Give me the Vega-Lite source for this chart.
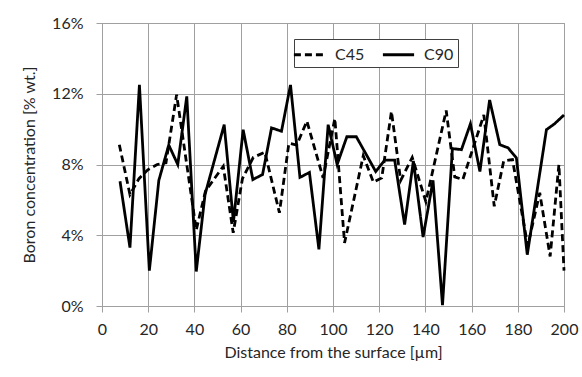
{
  "$schema": "https://vega.github.io/schema/vega-lite/v6.json",
  "width": 462,
  "height": 283,
  "autosize": {"type": "none"},
  "padding": {"left": 102, "top": 23, "right": 18, "bottom": 71},
  "background": "white",
  "config": {
    "font": "Lato",
    "view": {"stroke": "#a0a0a0"},
    "axis": {
      "gridColor": "#a0a0a0",
      "gridOpacity": 1,
      "gridWidth": 1,
      "domainColor": "#a0a0a0",
      "tickColor": "#a0a0a0",
      "tickSize": 6,
      "labelFont": "Lato",
      "labelFontSize": 16,
      "labelColor": "#262626",
      "titleFont": "Lato",
      "titleFontSize": 16,
      "titleFontWeight": "normal",
      "titleColor": "#262626"
    }
  },
  "data": {
    "values": [
      {"series": "C90", "x": 7.8, "y": 7.05},
      {"series": "C90", "x": 12.1, "y": 3.3},
      {"series": "C90", "x": 16.2, "y": 12.5},
      {"series": "C90", "x": 20.5, "y": 2.0},
      {"series": "C90", "x": 24.6, "y": 7.1},
      {"series": "C90", "x": 28.9, "y": 9.1},
      {"series": "C90", "x": 32.8, "y": 8.0},
      {"series": "C90", "x": 36.7, "y": 11.85},
      {"series": "C90", "x": 40.8, "y": 1.95},
      {"series": "C90", "x": 44.6, "y": 6.3},
      {"series": "C90", "x": 48.8, "y": 8.3},
      {"series": "C90", "x": 52.9, "y": 10.25},
      {"series": "C90", "x": 56.9, "y": 4.75},
      {"series": "C90", "x": 61.1, "y": 9.97},
      {"series": "C90", "x": 65.3, "y": 7.15},
      {"series": "C90", "x": 69.5, "y": 7.43},
      {"series": "C90", "x": 73.4, "y": 10.07},
      {"series": "C90", "x": 77.7, "y": 9.88},
      {"series": "C90", "x": 81.6, "y": 12.5},
      {"series": "C90", "x": 85.7, "y": 7.27},
      {"series": "C90", "x": 89.8, "y": 7.55},
      {"series": "C90", "x": 93.9, "y": 3.2},
      {"series": "C90", "x": 97.9, "y": 10.25},
      {"series": "C90", "x": 101.8, "y": 8.0},
      {"series": "C90", "x": 106.0, "y": 9.57},
      {"series": "C90", "x": 110.1, "y": 9.57},
      {"series": "C90", "x": 118.5, "y": 7.6},
      {"series": "C90", "x": 122.4, "y": 8.25},
      {"series": "C90", "x": 126.7, "y": 8.25},
      {"series": "C90", "x": 131.0, "y": 4.6},
      {"series": "C90", "x": 134.8, "y": 8.2},
      {"series": "C90", "x": 139.0, "y": 3.9},
      {"series": "C90", "x": 143.3, "y": 7.1},
      {"series": "C90", "x": 147.4, "y": 0.05},
      {"series": "C90", "x": 151.7, "y": 8.9},
      {"series": "C90", "x": 155.6, "y": 8.84},
      {"series": "C90", "x": 159.5, "y": 10.3},
      {"series": "C90", "x": 163.6, "y": 7.6},
      {"series": "C90", "x": 167.8, "y": 11.65},
      {"series": "C90", "x": 172.2, "y": 9.12},
      {"series": "C90", "x": 175.8, "y": 8.94},
      {"series": "C90", "x": 179.4, "y": 8.37},
      {"series": "C90", "x": 184.1, "y": 2.9},
      {"series": "C90", "x": 192.4, "y": 9.97},
      {"series": "C90", "x": 195.9, "y": 10.3},
      {"series": "C90", "x": 200.0, "y": 10.8},
      {"series": "C45", "x": 7.5, "y": 9.12},
      {"series": "C45", "x": 12.1, "y": 6.3},
      {"series": "C45", "x": 16.0, "y": 7.2},
      {"series": "C45", "x": 19.8, "y": 7.7},
      {"series": "C45", "x": 23.9, "y": 8.0},
      {"series": "C45", "x": 27.7, "y": 8.1},
      {"series": "C45", "x": 32.3, "y": 11.95},
      {"series": "C45", "x": 40.8, "y": 4.3},
      {"series": "C45", "x": 44.8, "y": 6.5},
      {"series": "C45", "x": 52.5, "y": 7.9},
      {"series": "C45", "x": 56.8, "y": 4.14},
      {"series": "C45", "x": 60.8, "y": 7.2},
      {"series": "C45", "x": 65.5, "y": 8.4},
      {"series": "C45", "x": 70.5, "y": 8.7},
      {"series": "C45", "x": 76.8, "y": 5.27},
      {"series": "C45", "x": 80.9, "y": 9.2},
      {"series": "C45", "x": 84.3, "y": 9.1},
      {"series": "C45", "x": 88.7, "y": 10.45},
      {"series": "C45", "x": 95.7, "y": 7.25},
      {"series": "C45", "x": 100.8, "y": 10.6},
      {"series": "C45", "x": 105.0, "y": 3.57},
      {"series": "C45", "x": 113.1, "y": 8.5},
      {"series": "C45", "x": 117.5, "y": 7.0},
      {"series": "C45", "x": 121.1, "y": 7.24},
      {"series": "C45", "x": 125.3, "y": 11.0},
      {"series": "C45", "x": 129.3, "y": 7.1},
      {"series": "C45", "x": 134.3, "y": 8.4},
      {"series": "C45", "x": 140.2, "y": 5.9},
      {"series": "C45", "x": 149.0, "y": 11.05},
      {"series": "C45", "x": 152.7, "y": 7.3},
      {"series": "C45", "x": 156.2, "y": 7.15},
      {"series": "C45", "x": 165.3, "y": 10.8},
      {"series": "C45", "x": 169.8, "y": 5.64},
      {"series": "C45", "x": 173.9, "y": 8.2},
      {"series": "C45", "x": 177.7, "y": 8.28},
      {"series": "C45", "x": 184.3, "y": 3.4},
      {"series": "C45", "x": 189.5, "y": 6.4},
      {"series": "C45", "x": 194.0, "y": 2.8},
      {"series": "C45", "x": 197.8, "y": 8.0},
      {"series": "C45", "x": 200.0, "y": 2.0}
    ]
  },
  "mark": {"type": "line", "color": "black", "strokeWidth": 2.8, "strokeJoin": "miter", "strokeMiterLimit": 4},
  "encoding": {
    "x": {
      "field": "x",
      "type": "quantitative",
      "scale": {"domain": [0, 200], "nice": false},
      "axis": {
        "values": [0, 20, 40, 60, 80, 100, 120, 140, 160, 180, 200],
        "title": "Distance from the surface [µm]",
        "labelPadding": 9,
        "titlePadding": 7,
        "labelFlush": false
      }
    },
    "y": {
      "field": "y",
      "type": "quantitative",
      "scale": {"domain": [0, 16], "nice": false},
      "axis": {
        "values": [0, 4, 8, 12, 16],
        "labelExpr": "datum.value + '%'",
        "title": "Boron concentration [% wt.]",
        "labelPadding": 13,
        "titlePadding": 14,
        "labelFlush": false
      }
    },
    "strokeDash": {
      "field": "series",
      "type": "nominal",
      "scale": {"domain": ["C45", "C90"], "range": [[7, 4], [1, 0]]},
      "legend": {
        "title": null,
        "orient": "none",
        "legendX": 192,
        "legendY": 16,
        "direction": "horizontal",
        "strokeColor": "#404040",
        "fillColor": "white",
        "padding": 4,
        "symbolType": "M-1.6,0H1.6",
        "symbolSize": 380,
        "symbolStrokeWidth": 2.8,
        "symbolStrokeColor": "black",
        "labelFontSize": 16,
        "labelFont": "Lato",
        "labelColor": "#262626",
        "labelOffset": 14,
        "columnPadding": 12
      }
    }
  }
}
